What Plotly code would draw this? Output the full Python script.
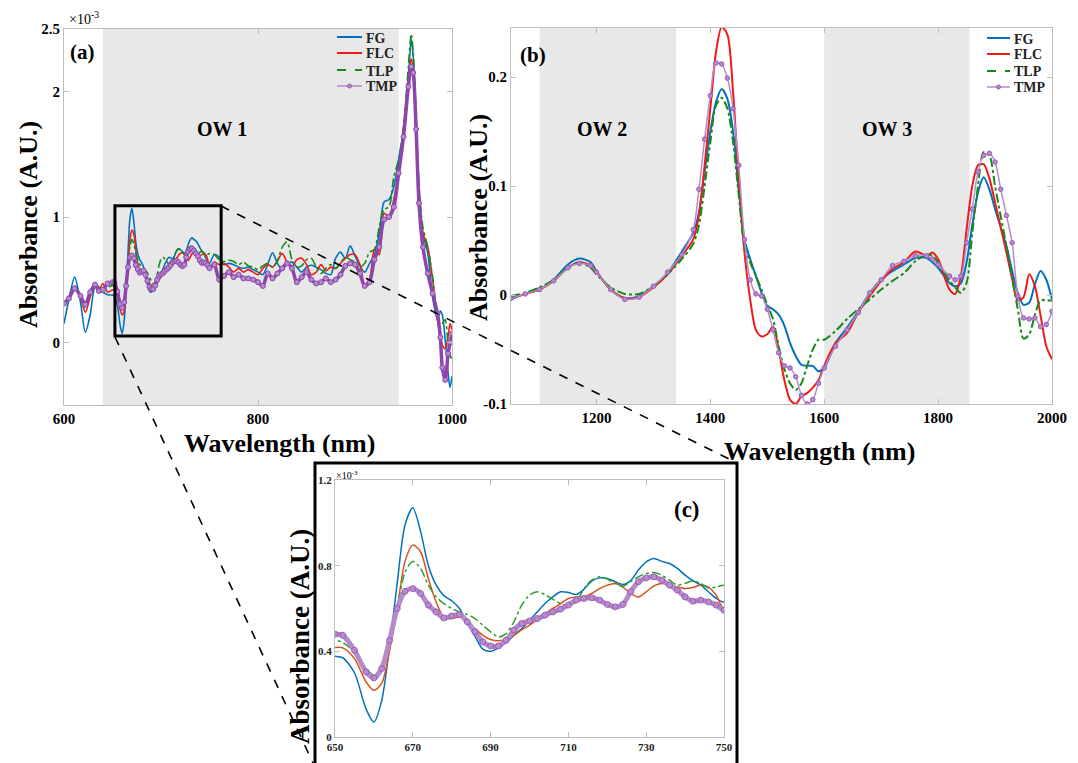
import plotly.graph_objects as go

# ---------------- data ----------------
# Panel (a) and zoom (c): visible range, absorbance in units of 1e-3
wl_vis = [600, 605, 611, 617, 622, 627, 632, 636, 640, 645,
          650, 652, 655, 658, 660, 662, 664, 666, 668, 670, 672, 674, 676, 678, 680,
          682, 684, 686, 688, 690, 692, 694, 696, 698, 700, 702, 704, 706, 708, 710,
          712, 714, 716, 718, 720, 722, 724, 726, 728, 730, 732, 734, 736, 738, 740,
          742, 744, 746, 748, 750,
          755, 760, 765, 770, 775, 780, 785, 790, 795, 800, 805, 810, 815, 820, 825,
          830, 835, 840, 845, 850, 855, 860, 865, 870, 875, 880, 885, 890, 895, 900,
          905, 910, 915,
          920, 925, 930, 935, 940, 945, 950, 955, 958, 960, 963, 966, 970, 975, 980,
          985, 988, 990, 993, 996, 998, 1000]

fg_vis = [0.15, 0.34, 0.52, 0.32, 0.08, 0.22, 0.44, 0.42, 0.40, 0.38,
          0.377, 0.37, 0.30, 0.13, 0.07, 0.17, 0.42, 0.72, 0.99, 1.07, 0.96, 0.80, 0.71, 0.66, 0.636,
          0.60, 0.53, 0.47, 0.41, 0.40, 0.416, 0.44, 0.475, 0.506, 0.545, 0.584, 0.623, 0.654, 0.678, 0.675,
          0.665, 0.69, 0.728, 0.743, 0.74, 0.725, 0.712, 0.73, 0.78, 0.818, 0.834, 0.82, 0.81, 0.787, 0.756,
          0.73, 0.71, 0.678, 0.647, 0.63,
          0.70, 0.68, 0.62, 0.63, 0.62, 0.60, 0.59, 0.60, 0.58, 0.56, 0.54, 0.62, 0.715, 0.63, 0.58,
          0.63, 0.64, 0.60, 0.56, 0.60, 0.615, 0.60, 0.58, 0.55, 0.54, 0.67, 0.72, 0.67, 0.77, 0.69,
          0.61, 0.56, 0.63,
          0.70, 0.87, 1.12, 1.14, 1.24, 1.46, 1.70, 2.10, 2.42, 2.28, 1.78, 1.24, 0.87, 0.71, 0.36,
          0.18, 0.25, 0.22, 0.02, -0.25, -0.36, -0.27]

flc_vis = [0.31, 0.36, 0.44, 0.36, 0.24, 0.36, 0.45, 0.42, 0.47, 0.40,
           0.418, 0.416, 0.366, 0.257, 0.218, 0.25, 0.40, 0.60, 0.82, 0.896, 0.865, 0.74, 0.63, 0.56, 0.553,
           0.56, 0.538, 0.506, 0.475, 0.455, 0.449, 0.457, 0.475, 0.50, 0.522, 0.548, 0.577, 0.60, 0.623, 0.647,
           0.654, 0.654, 0.67, 0.693, 0.709, 0.717, 0.70, 0.67, 0.654, 0.678, 0.706, 0.717, 0.712, 0.70, 0.693,
           0.698, 0.709, 0.70, 0.662, 0.60,
           0.64, 0.62, 0.63, 0.60, 0.56, 0.59, 0.56, 0.58, 0.56, 0.54, 0.59, 0.62, 0.60, 0.65, 0.71,
           0.64, 0.60, 0.66, 0.67, 0.62, 0.54, 0.56, 0.62, 0.57, 0.60, 0.59, 0.63, 0.67, 0.70, 0.70,
           0.62, 0.46, 0.50,
           0.74, 0.70, 1.03, 1.00, 1.14, 1.38, 1.70, 2.12, 2.26, 2.18, 1.70, 1.19, 0.87, 0.76, 0.50,
           0.18, 0.05, -0.02, -0.05, 0.05, 0.15, 0.10]

tlp_vis = [0.31, 0.37, 0.45, 0.38, 0.27, 0.38, 0.47, 0.44, 0.42, 0.44,
           0.452, 0.441, 0.397, 0.32, 0.288, 0.31, 0.43, 0.60, 0.77, 0.82, 0.787, 0.709, 0.654, 0.623, 0.60,
           0.584, 0.572, 0.553, 0.522, 0.491, 0.467, 0.483, 0.538, 0.616, 0.662, 0.678, 0.665, 0.643, 0.623, 0.612,
           0.631, 0.693, 0.732, 0.748, 0.737, 0.717, 0.704, 0.725, 0.748, 0.763, 0.768, 0.756, 0.732, 0.709, 0.717,
           0.728, 0.717, 0.696, 0.70, 0.709,
           0.70, 0.66, 0.645, 0.655, 0.645, 0.62, 0.64, 0.61, 0.60, 0.58, 0.61, 0.63, 0.60, 0.65, 0.76,
           0.80, 0.66, 0.60, 0.61, 0.66, 0.67, 0.60, 0.55, 0.59, 0.62, 0.59, 0.63, 0.68, 0.66, 0.64,
           0.60, 0.63, 0.72,
           0.74, 0.92, 1.06, 1.08, 1.32, 1.46, 1.72, 2.20, 2.46, 2.31, 1.80, 1.24, 0.92, 0.76, 0.52,
           0.20, 0.14, 0.15, 0.18, -0.02, -0.10, -0.14]

tmp_vis = [0.31, 0.35, 0.43, 0.37, 0.30, 0.40, 0.46, 0.41, 0.42, 0.47,
           0.48, 0.475, 0.405, 0.304, 0.276, 0.32, 0.45, 0.60, 0.68, 0.693, 0.67, 0.616, 0.584, 0.556, 0.565,
           0.572, 0.538, 0.491, 0.444, 0.425, 0.425, 0.452, 0.499, 0.53, 0.542, 0.553, 0.569, 0.584, 0.597, 0.616,
           0.639, 0.647, 0.65, 0.639, 0.619, 0.608, 0.619, 0.678, 0.725, 0.743, 0.748, 0.732, 0.709, 0.686, 0.654,
           0.634, 0.639, 0.631, 0.616, 0.592,
           0.62, 0.50, 0.53, 0.56, 0.52, 0.54, 0.51, 0.51, 0.50, 0.48, 0.45, 0.55, 0.51, 0.55, 0.59,
           0.63, 0.59, 0.48, 0.52, 0.56, 0.50, 0.47, 0.48, 0.51, 0.48, 0.50, 0.54, 0.61, 0.63, 0.62,
           0.55, 0.45, 0.48,
           0.66, 0.76, 0.98, 1.00, 1.08, 1.35, 1.64, 2.04, 2.20, 2.15, 1.70, 1.11, 0.76, 0.55, 0.39,
           0.23, 0.04, -0.20, -0.30, -0.09, 0.00, 0.07]

# Panel (b): near-infrared range, absorbance
wl_nir = [1050, 1075, 1100, 1125, 1150, 1170, 1190, 1200, 1225, 1250, 1275, 1300, 1325, 1350,
          1370, 1380, 1390, 1400, 1410, 1420, 1430, 1440, 1450, 1460, 1470, 1480, 1490, 1500,
          1510, 1520, 1530, 1540, 1550, 1560, 1570, 1580, 1590, 1600, 1620, 1640, 1660, 1680,
          1700, 1720, 1740, 1760, 1780, 1790, 1800, 1820, 1830, 1840, 1850, 1860, 1870, 1880,
          1890, 1900, 1910, 1920, 1930, 1940, 1950, 1960, 1970, 1980, 1990, 2000]

fg_nir = [-0.004, 0.001, 0.005, 0.014, 0.028, 0.0335, 0.030, 0.022, 0.005, -0.003, -0.001, 0.008, 0.020, 0.040,
          0.057, 0.076, 0.113, 0.150, 0.177, 0.189, 0.180, 0.150, 0.097, 0.051, 0.033, 0.0175, 0.002, -0.010,
          -0.013, -0.018, -0.028, -0.044, -0.056, -0.064, -0.065, -0.065, -0.070, -0.067, -0.044, -0.030, -0.015, 0.002,
          0.014, 0.022, 0.028, 0.034, 0.034, 0.030, 0.025, 0.011, 0.008, 0.011, 0.030, 0.064, 0.094, 0.108,
          0.097, 0.079, 0.062, 0.045, 0.022, 0.002, -0.009, -0.007, 0.010, 0.022, 0.014, -0.004]

flc_nir = [-0.0025, 0.001, 0.005, 0.013, 0.025, 0.030, 0.027, 0.021, 0.005, -0.003, -0.002, 0.007, 0.019, 0.036,
           0.051, 0.073, 0.119, 0.171, 0.223, 0.246, 0.239, 0.186, 0.104, 0.039, -0.004, -0.032, -0.038, -0.036,
           -0.029, -0.050, -0.078, -0.096, -0.100, -0.093, -0.090, -0.085, -0.078, -0.065, -0.044, -0.035, -0.016, -0.001,
           0.013, 0.024, 0.030, 0.040, 0.036, 0.039, 0.033, 0.005, 0.001, 0.0175, 0.060, 0.100, 0.119, 0.120,
           0.107, 0.085, 0.062, 0.039, 0.015, -0.005, -0.002, 0.019, 0.008, -0.019, -0.047, -0.059]

tlp_nir = [-0.001, 0.002, 0.007, 0.014, 0.025, 0.030, 0.025, 0.019, 0.007, 0.001, 0.001, 0.008, 0.019, 0.033,
           0.047, 0.064, 0.100, 0.140, 0.174, 0.181, 0.171, 0.140, 0.091, 0.045, 0.030, 0.0175, 0.005, -0.009,
           -0.022, -0.047, -0.068, -0.081, -0.087, -0.081, -0.065, -0.050, -0.041, -0.041, -0.033, -0.022, -0.013, -0.004,
           0.005, 0.013, 0.020, 0.031, 0.037, 0.036, 0.030, 0.013, 0.007, 0.002, 0.011, 0.057, 0.100, 0.131,
           0.128, 0.100, 0.072, 0.045, 0.015, -0.013, -0.040, -0.036, -0.018, -0.005, -0.005, -0.005]

tmp_nir = [-0.003, 0.001, 0.005, 0.013, 0.025, 0.029, 0.027, 0.021, 0.005, -0.004, -0.002, 0.008, 0.021, 0.037,
           0.060, 0.097, 0.143, 0.183, 0.213, 0.212, 0.199, 0.171, 0.119, 0.051, 0.014, 0.001, -0.001, -0.013,
           -0.032, -0.053, -0.065, -0.067, -0.075, -0.092, -0.100, -0.096, -0.081, -0.067, -0.047, -0.032, -0.016, 0.002,
           0.014, 0.027, 0.031, 0.036, 0.036, 0.033, 0.028, 0.0175, 0.014, 0.0175, 0.048, 0.079, 0.113, 0.128,
           0.130, 0.122, 0.097, 0.073, 0.048, -0.001, -0.021, -0.022, -0.021, -0.029, -0.027, -0.015]

names = ["FG", "FLC", "TLP", "TMP"]
ow_bands_vis = [(640, 945)]
ow_bands_nir = [(1100, 1340), (1600, 1855)]
ow_labels = ["OW 1", "OW 2", "OW 3"]

# ---------------- style ----------------
W, H = 1078, 763
SERIF = "Liberation Serif"
C_BLUE = "#0072BD"
C_RED = "#F01A1A"
C_ORANGE = "#D95319"
C_GREEN = "#168A16"
C_GREEN_C = "#2E9E2E"
C_PURP = "#8E44AD"
C_PURP_L = "#B58BCB"
AX_COL = "#bdbdbd"


def px_x(p):
    return p / W


def px_y(p):
    return 1 - p / H


fig = go.Figure()
SPL = dict(shape="spline", smoothing=0.8)

# panel (a)
fig.add_trace(go.Scatter(x=wl_vis, y=fg_vis, name=names[0], mode="lines", line=dict(color=C_BLUE, width=1.6, **SPL),
                         xaxis="x", yaxis="y"))
fig.add_trace(go.Scatter(x=wl_vis, y=flc_vis, name=names[1], mode="lines", line=dict(color=C_RED, width=1.6, **SPL),
                         xaxis="x", yaxis="y"))
fig.add_trace(go.Scatter(x=wl_vis, y=tlp_vis, name=names[2], mode="lines", line=dict(color=C_GREEN, width=1.6, dash="dashdot", **SPL),
                         xaxis="x", yaxis="y"))
fig.add_trace(go.Scatter(x=wl_vis, y=tmp_vis, name=names[3], mode="lines+markers", line=dict(color=C_PURP, width=3.5, **SPL),
                         marker=dict(size=5, color=C_PURP_L, line=dict(color=C_PURP, width=1)),
                         xaxis="x", yaxis="y"))

# panel (b)
fig.add_trace(go.Scatter(x=wl_nir, y=fg_nir, name=names[0], mode="lines", line=dict(color=C_BLUE, width=2, **SPL),
                         xaxis="x2", yaxis="y2"))
fig.add_trace(go.Scatter(x=wl_nir, y=flc_nir, name=names[1], mode="lines", line=dict(color=C_RED, width=2, **SPL),
                         xaxis="x2", yaxis="y2"))
fig.add_trace(go.Scatter(x=wl_nir, y=tlp_nir, name=names[2], mode="lines", line=dict(color=C_GREEN, width=2, dash="dashdot", **SPL),
                         xaxis="x2", yaxis="y2"))
fig.add_trace(go.Scatter(x=wl_nir, y=tmp_nir, name=names[3], mode="lines+markers", line=dict(color=C_PURP_L, width=1.5, **SPL),
                         marker=dict(size=4.5, color=C_PURP_L, line=dict(color="#9B59B6", width=1)),
                         xaxis="x2", yaxis="y2"))

# panel (c) zoom
fig.add_trace(go.Scatter(x=wl_vis, y=fg_vis, name=names[0], mode="lines", line=dict(color=C_BLUE, width=1.5, **SPL),
                         xaxis="x3", yaxis="y3"))
fig.add_trace(go.Scatter(x=wl_vis, y=flc_vis, name=names[1], mode="lines", line=dict(color=C_ORANGE, width=1.5, **SPL),
                         xaxis="x3", yaxis="y3"))
fig.add_trace(go.Scatter(x=wl_vis, y=tlp_vis, name=names[2], mode="lines", line=dict(color=C_GREEN_C, width=1.5, dash="dashdot", **SPL),
                         xaxis="x3", yaxis="y3"))
fig.add_trace(go.Scatter(x=wl_vis, y=tmp_vis, name=names[3], mode="lines+markers", line=dict(color=C_PURP_L, width=5, **SPL),
                         marker=dict(size=6, symbol="circle-open", color="#9B59B6", line=dict(width=1)),
                         xaxis="x3", yaxis="y3"))

tick_font = dict(family=SERIF, size=15, color="black", weight="bold")
tick_font_c = dict(family=SERIF, size=11, color="#222", weight="bold")


def axis(domain, rng, tickvals, ticktext=None, font=tick_font, anchor=None):
    d = dict(domain=domain, range=rng, tickvals=tickvals, ticks="inside", ticklen=5, tickcolor=AX_COL,
             showline=True, linecolor=AX_COL, linewidth=1.2, mirror="ticks", showgrid=False, zeroline=False,
             tickfont=font, anchor=anchor, automargin=False)
    if ticktext is not None:
        d["ticktext"] = ticktext
    return d


fig.update_layout(
    width=W, height=H, margin=dict(l=0, r=0, t=0, b=0, pad=0, autoexpand=False),
    paper_bgcolor="white", plot_bgcolor="white", showlegend=False,
    xaxis=axis([px_x(64), px_x(452)], [600, 1000], [600, 800, 1000], anchor="y"),
    yaxis=axis([px_y(405), px_y(29)], [-0.5, 2.5], [0, 1, 2, 2.5], ["0", "1", "2", "2.5"], anchor="x"),
    xaxis2=axis([px_x(511), px_x(1052)], [1050, 2000], [1200, 1400, 1600, 1800, 2000], anchor="y2"),
    yaxis2=axis([px_y(404), px_y(28)], [-0.1, 0.245], [-0.1, 0, 0.1, 0.2], ["-0.1", "0", "0.1", "0.2"], anchor="x2"),
    xaxis3=axis([px_x(335), px_x(724)], [650, 750], [650, 670, 690, 710, 730, 750], font=tick_font_c, anchor="y3"),
    yaxis3=axis([px_y(737), px_y(480)], [0, 1.2], [0, 0.4, 0.8, 1.2], ["0", "0.4", "0.8", "1.2"], font=tick_font_c, anchor="x3"),
)

shapes = []
# optical windows
for (a0, a1) in ow_bands_vis:
    shapes.append(dict(type="rect", xref="x", yref="y domain", x0=a0, x1=a1, y0=0, y1=1,
                       fillcolor="#e8e8e8", line=dict(width=0), layer="below"))
for (a0, a1) in ow_bands_nir:
    shapes.append(dict(type="rect", xref="x2", yref="y2 domain", x0=a0, x1=a1, y0=0, y1=1,
                       fillcolor="#e8e8e8", line=dict(width=0), layer="below"))
# zoom box in (a)
shapes.append(dict(type="rect", xref="x", yref="y", x0=652.5, x1=762, y0=0.05, y1=1.09,
                   line=dict(color="black", width=3)))
# frame of (c)
shapes.append(dict(type="rect", xref="paper", yref="paper", x0=px_x(315), x1=px_x(737), y0=-0.02, y1=px_y(463),
                   line=dict(color="black", width=3), fillcolor="white", layer="below"))
# connector dashed lines
shapes.append(dict(type="line", xref="paper", yref="paper", x0=px_x(221), y0=px_y(206), x1=px_x(737), y1=px_y(463),
                   line=dict(color="black", width=1.6, dash="dash")))
shapes.append(dict(type="line", xref="paper", yref="paper", x0=px_x(115), y0=px_y(337), x1=px_x(313), y1=px_y(763),
                   line=dict(color="black", width=1.6, dash="dash")))

ann = []


def txt(x, y, s, size, angle=0, bold=True, color="black", xanchor="center"):
    ann.append(dict(x=px_x(x), y=px_y(y), xref="paper", yref="paper", text=s, showarrow=False,
                    textangle=angle, xanchor=xanchor, yanchor="middle",
                    font=dict(family=SERIF, size=size, color=color, weight="bold" if bold else "normal")))


# manual legends (a) and (b)
leg_line = [dict(color=C_BLUE, width=2), dict(color=C_RED, width=2),
            dict(color=C_GREEN, width=2, dash="dash"), dict(color=C_PURP_L, width=1.5)]
for (lx0, lx1, ys) in ((337, 362, (37, 53, 70, 86)), (987, 1010, (38, 54, 71, 87))):
    for nm, st, yy in zip(names, leg_line, ys):
        shapes.append(dict(type="line", xref="paper", yref="paper", x0=px_x(lx0), x1=px_x(lx1),
                           y0=px_y(yy), y1=px_y(yy), line=st))
        if nm == "TMP":
            cx = (lx0 + lx1) / 2
            shapes.append(dict(type="circle", xref="paper", yref="paper", x0=px_x(cx - 2), x1=px_x(cx + 2),
                               y0=px_y(yy + 2), y1=px_y(yy - 2), line=dict(color="#9B59B6", width=1),
                               fillcolor=C_PURP_L))
        txt(lx1 + 2, yy + 1, nm, 14, xanchor="left", color="#222")

fig.update_layout(shapes=shapes)

txt(82, 52, "(a)", 21)
txt(533, 55, "(b)", 21)
txt(687, 510, "(c)", 23)
txt(222, 129, ow_labels[0], 20)
txt(602, 129, ow_labels[1], 20)
txt(887, 129, ow_labels[2], 20)
txt(28, 225, "Absorbance (A.U.)", 26, angle=-90)
txt(279, 443, "Wavelength (nm)", 26)
txt(478, 218, "Absorbance (A.U.)", 26, angle=-90)
txt(819, 451, "Wavelength (nm)", 26)
txt(300, 637, "Absorbance (A.U.)", 27, angle=-90)
txt(84, 18, "×10<sup>-3</sup>", 14, bold=False)
txt(347, 475, "×10<sup>-3</sup>", 10, bold=False)
fig.update_layout(annotations=ann)

fig.write_html("out.html", config={"displayModeBar": False},
               post_script="document.body.style.margin='0px';document.body.style.overflow='hidden';")
